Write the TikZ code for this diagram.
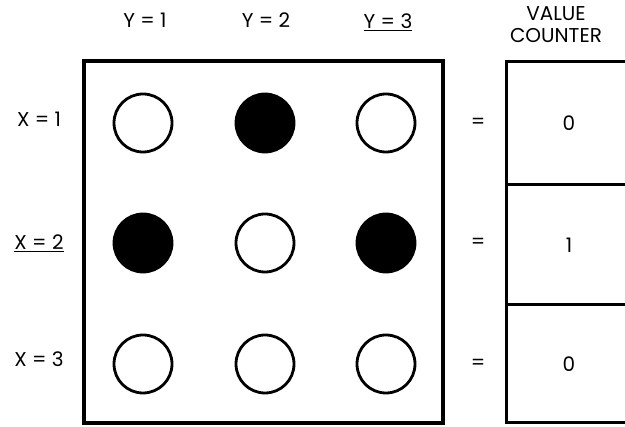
\documentclass[tikz,border=0pt]{standalone}
\usepackage{fontspec}
\setmainfont{Poppins}
\usetikzlibrary{positioning}

\begin{document}
\begin{tikzpicture}[
  x=1pt, y=-1pt,
  lbl/.style={font=\fontsize{20}{22}\selectfont},
  hole/.style={draw,circle,line width=2.8pt,minimum size=58pt,inner sep=0pt},
  pin/.style={hole,fill=black},
  cell/.style={draw,line width=3pt,minimum width=126pt,inner sep=0pt,
    font=\fontsize{20}{22}\selectfont}
]
  \useasboundingbox (0,0) rectangle (625,427);
  % the board
  \node[draw,line width=3.5pt,minimum width=359pt,minimum height=362pt] (board) at (263.5,242) {};
  \node[hole] (a11) at (143,123) {};
  \node[pin]  (a12) at (265,123) {};
  \node[hole] (a13) at (386,123) {};
  \node[pin]  (a21) at (143,243) {};
  \node[hole] (a22) at (265,243) {};
  \node[pin]  (a23) at (386,243) {};
  \node[hole] (a31) at (143,364) {};
  \node[hole] (a32) at (265,364) {};
  \node[hole] (a33) at (386,364) {};
  % column and row labels
  \node[lbl] (y1) at (145,20) {Y = 1};
  \node[lbl] (y2) at (266,20) {Y = 2};
  \node[lbl] (y3) at (388,22) {\underline{Y = 3}};
  \node[lbl] (x1) at (39,119) {X = 1};
  \node[lbl] (x2) at (39,243) {\underline{X = 2}};
  \node[lbl] (x3) at (39,359) {X = 3};
  % value counter
  \node[lbl,align=center] (head) at (556,25) {VALUE\\COUNTER};
  \node[cell,minimum height=123pt] (c1) at (569,123.5) {0};
  \node[cell,minimum height=120pt] (c2) at (569,245) {1};
  \node[cell,minimum height=118pt] (c3) at (569,364) {0};
  \node[lbl] (e1) at (478,123) {=};
  \node[lbl] (e2) at (478,243) {=};
  \node[lbl] (e3) at (478,364) {=};
\end{tikzpicture}
\end{document}
